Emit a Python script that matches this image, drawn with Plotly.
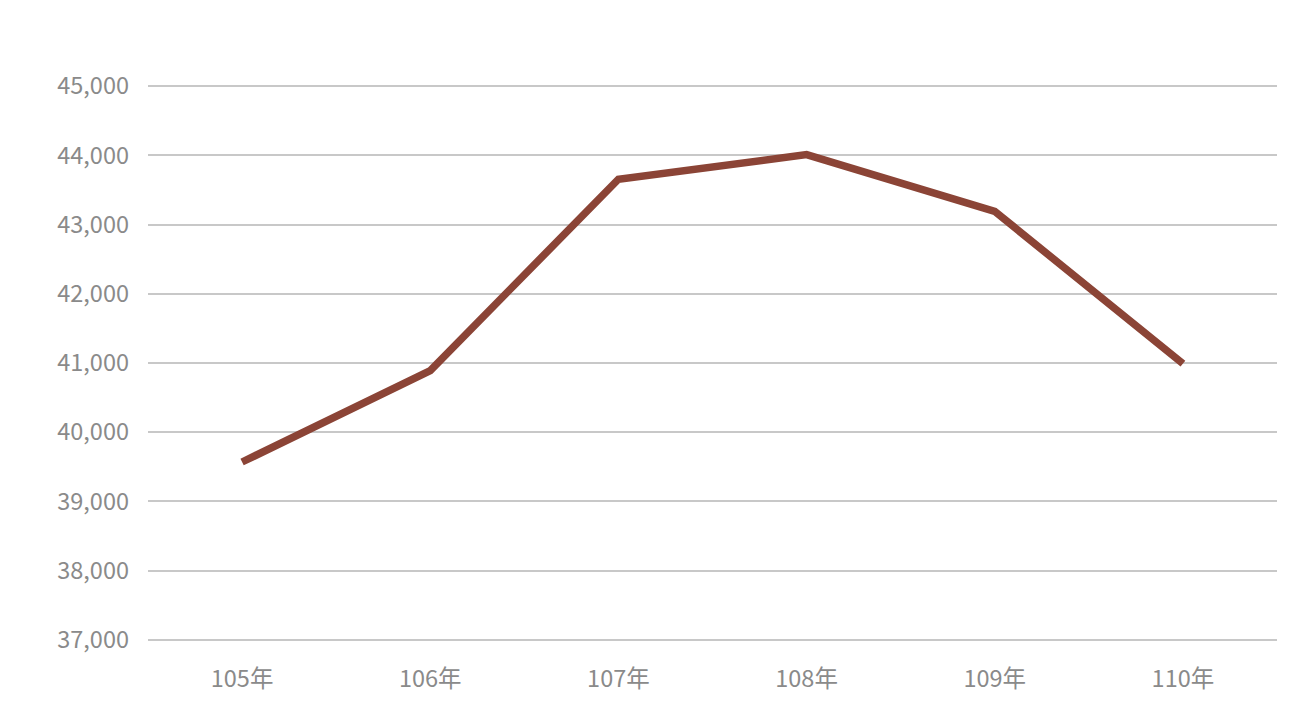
import plotly.graph_objects as go

years = ["105年", "106年", "107年", "108年", "109年", "110年"]
values = [39570, 40890, 43655, 44010, 43190, 40990]
y_ticks = [37000, 38000, 39000, 40000, 41000, 42000, 43000, 44000, 45000]

fig = go.Figure()
fig.add_trace(go.Scatter(
    x=years, y=values, mode="lines",
    line=dict(color="#8b4436", width=7.5),
    hoverinfo="x+y",
))

font = "Noto Sans CJK TC, Noto Sans, sans-serif"
fig.update_layout(
    width=1297, height=718,
    margin=dict(l=140, r=28, t=76, b=84),
    plot_bgcolor="white", paper_bgcolor="white",
    showlegend=False,
    font=dict(family=font, size=23.5, color="#8a8a8a"),
    xaxis=dict(
        type="category", range=[-0.5, 5.5],
        showgrid=False, zeroline=False, showline=False,
        ticks="", ticklabelstandoff=20,
        tickfont=dict(size=23.5, color="#8a8a8a"),
    ),
    yaxis=dict(
        range=[36970, 45030], tickvals=y_ticks,
        tickformat=",d",
        showgrid=True, gridcolor="#c8c8c8", gridwidth=1.5,
        zeroline=False, showline=False,
        ticks="", ticklabelstandoff=18,
        tickfont=dict(size=23.5, color="#8a8a8a"),
    ),
)

fig.write_html("out.html")
